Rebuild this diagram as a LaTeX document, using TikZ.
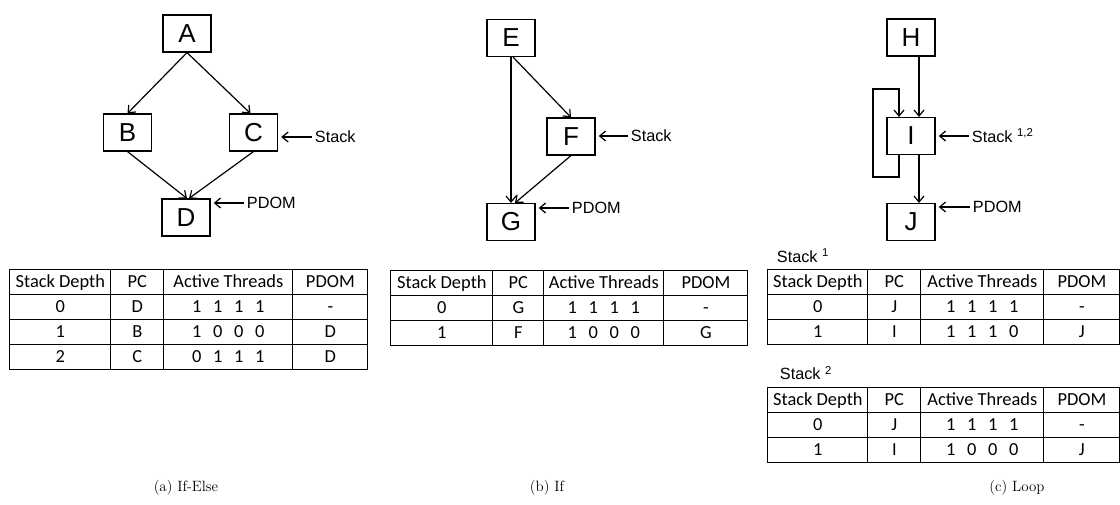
\documentclass[tikz,border=0pt]{standalone}
\usepackage{fontspec}
\newfontfamily\arialf{Liberation Sans}
\newfontfamily\calf{Carlito}
\usetikzlibrary{arrows.meta,matrix,calc}

% four thread-mask bits on a fixed pitch
\newcommand\bitrow[4]{\makebox[15.75pt]{#1}\makebox[15.75pt]{#2}\makebox[15.75pt]{#3}\makebox[15.75pt]{#4}}

\tikzset{
  blk/.style={draw, line width=1.1pt, minimum width=36pt, minimum height=27.5pt,
    inner sep=0pt, font=\arialf\fontsize{19.5}{22}\selectfont},
  lbl/.style={anchor=west, inner sep=2pt, font=\arialf\fontsize{12.2}{14}\selectfont},
  flow/.style={-{Straight Barb[length=4.5pt,width=7.5pt]}, line width=0.9pt},
  tbl/.style={matrix of nodes, anchor=north west, inner sep=0pt,
    column sep=-0.9pt, row sep=-0.9pt,
    nodes={draw, line width=0.9pt, inner sep=0pt, anchor=center,
      minimum height=18.75pt, text height=9.5pt, text depth=2.5pt,
      font=\calf\fontsize{13.8}{16}\selectfont}},
  cols/.style n args={4}{
    column 1/.style={nodes={minimum width=#1}},
    column 2/.style={nodes={minimum width=#2}},
    column 3/.style={nodes={minimum width=#3}},
    column 4/.style={nodes={minimum width=#4}}},
  captxt/.style={font=\fontsize{11.2}{13}\selectfont, inner sep=0pt}
}

\begin{document}
\begin{tikzpicture}[x=0.75pt, y=-0.75pt]
\useasboundingbox (0,0) rectangle (1120,504);

% ---------- (a) if-else ----------
\node[blk] (A) at (187,33.5) {A};
\node[blk] (B) at (127.5,132.5) {B};
\node[blk] (C) at (253.5,132.5) {C};
\node[blk] (D) at (186,217.5) {D};
\draw[flow] (A.south) -- (B.north);
\draw[flow] (A.south) -- ($(C.north)+(-3,0)$);
\draw[flow] (B.south) -- ($(D.north)+(1,0)$);
\draw[flow] (C.south) -- ($(D.north)+(3,0)$);
\node[lbl] (sa) at (312,137) {Stack};
\draw[flow] (sa.west) -- ($(sa.west -| C.east)+(3,0)$);
\node[lbl] (pa) at (244,203) {PDOM};
\draw[flow] (pa.west) -- ($(pa.west -| D.east)+(3,0)$);

\matrix (ta) [tbl, cols={75.75pt}{39.75pt}{96.75pt}{56.25pt}] at (9,269) {
  Stack Depth & PC & Active Threads & PDOM \\
  0 & D & \bitrow{1}{1}{1}{1} & - \\
  1 & B & \bitrow{1}{0}{0}{0} & D \\
  2 & C & \bitrow{0}{1}{1}{1} & D \\
};

% ---------- (b) if ----------
\node[blk] (E) at (511,38) {E};
\node[blk] (F) at (571,136.5) {F};
\node[blk] (G) at (511,222) {G};
\draw[flow] (E.south) -- (G.north);
\draw[flow] ($(E.south)+(2,0)$) -- (F.north);
\draw[flow] (F.south) -- ($(G.north)+(4,0)$);
\node[lbl] (sb) at (628,136) {Stack};
\draw[flow] (sb.west) -- ($(sb.west -| F.east)+(3,0)$);
\node[lbl] (pb) at (569,208) {PDOM};
\draw[flow] (pb.west) -- ($(pb.west -| G.east)+(3,0)$);

\matrix (tb) [tbl, cols={76.5pt}{38.25pt}{90pt}{63pt}] at (390,270) {
  Stack Depth & PC & Active Threads & PDOM \\
  0 & G & \bitrow{1}{1}{1}{1} & - \\
  1 & F & \bitrow{1}{0}{0}{0} & G \\
};

% ---------- (c) loop ----------
\node[blk] (H) at (911,37.5) {H};
\node[blk] (I) at (911,136) {I};
\node[blk] (J) at (911,222) {J};
\draw[flow] ($(H.south)+(8,0)$) -- ($(I.north)+(8,0)$);
\draw[flow] ($(I.south)+(8,0)$) -- ($(J.north)+(8,0)$);
\coordinate (lb) at (873,177);
\coordinate (lt) at (873,89);
\draw[flow] ($(I.south)+(-12,0)$) |- (lb) -- (lt) -| ($(I.north)+(-12,0)$);
\node[lbl] (sc) at (969,136) {Stack \textsuperscript{1,2}};
\draw[flow] (sc.west) -- ($(sc.west -| I.east)+(3,0)$);
\node[lbl] (pc) at (970,207) {PDOM};
\draw[flow] (pc.west) -- ($(pc.west -| J.east)+(3,0)$);

\node[lbl] (s1) at (774,256) {Stack \textsuperscript{1}};
\matrix (tc1) [tbl, cols={75pt}{39.75pt}{92.25pt}{57pt}] at (767,269) {
  Stack Depth & PC & Active Threads & PDOM \\
  0 & J & \bitrow{1}{1}{1}{1} & - \\
  1 & I & \bitrow{1}{1}{1}{0} & J \\
};

\node[lbl] (s2) at (777,373) {Stack \textsuperscript{2}};
\matrix (tc2) [tbl, cols={75pt}{39.75pt}{92.25pt}{57pt}] at (767,387) {
  Stack Depth & PC & Active Threads & PDOM \\
  0 & J & \bitrow{1}{1}{1}{1} & - \\
  1 & I & \bitrow{1}{0}{0}{0} & J \\
};

% ---------- captions ----------
\node[captxt] (ca) at (186,488) {(a) If-Else};
\node[captxt] (cb) at (547,488) {(b) If};
\node[captxt] (cc) at (1017,488) {(c) Loop};
\end{tikzpicture}
\end{document}
